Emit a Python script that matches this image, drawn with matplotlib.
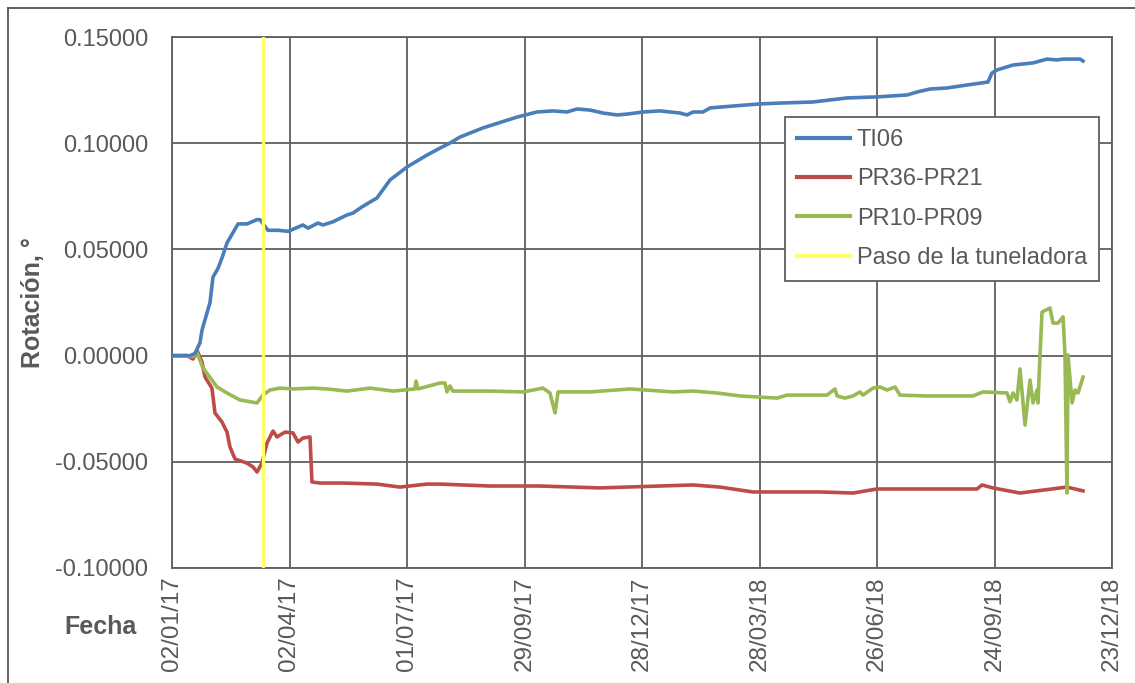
import matplotlib
matplotlib.use("Agg")
import matplotlib.pyplot as plt
import pandas as pd
from matplotlib.lines import Line2D

# ---------------- data (days since 02/01/17, rotation in degrees) ----------------
start = "2017-01-02"

ti06_days = [0, 13.8, 17.6, 21.4, 23, 29.1, 31.4, 35.2, 38.3, 42.1, 50.6, 57.4, 65.1, 67.4,
             73.5, 81.2, 88.9, 100.3, 104.2, 111.8, 115.7, 123.3, 134, 138.6, 145.5, 151.7,
             157, 167, 180, 195.3, 205.3, 213, 220.6, 238.2, 264.3, 279.6, 291.8, 302.6,
             310.2, 320.2, 330.2, 340.9, 348.5, 360.8, 373.8, 389.1, 394.5, 399.1, 406.7,
             412.1, 429.7, 450.4, 465.7, 491, 517, 540, 563, 570.6, 580.6, 593.6, 609, 625,
             628, 632, 644.2, 659.5, 670.2, 677.9, 682.5, 695.5, 697.8]
ti06_vals = [0.000, 0.000, 0.001, 0.006, 0.012, 0.025, 0.037, 0.041, 0.046, 0.053, 0.062,
             0.062, 0.064, 0.064, 0.059, 0.059, 0.0585, 0.0615, 0.060, 0.0624, 0.0615, 0.063,
             0.0662, 0.0671, 0.070, 0.0723, 0.0742, 0.0827, 0.0888, 0.0944, 0.0977, 0.1001,
             0.1029, 0.1072, 0.1123, 0.1147, 0.1152, 0.1147, 0.1161, 0.1156, 0.1142, 0.1133,
             0.1137, 0.1147, 0.1152, 0.1142, 0.1133, 0.1147, 0.1147, 0.1166, 0.1175, 0.1185,
             0.1189, 0.1194, 0.1213, 0.1218, 0.1227, 0.1241, 0.1255, 0.1260, 0.1274, 0.1288,
             0.1330, 0.1345, 0.1368, 0.1378, 0.1396, 0.1392, 0.1396, 0.1396, 0.1387]

pr36_days = [0, 11.5, 16.1, 19.1, 23.0, 25.3, 30.6, 32.9, 38.3, 42.1, 44.4, 48.3, 57.4, 62.0,
             65.1, 68.9, 72.8, 77.4, 80.4, 86.6, 92.7, 96.5, 100.3, 105.7, 107.2, 113.4, 131.0,
             157.0, 174.6, 195.3, 205.3, 243.6, 281.9, 327.8, 399.1, 419.7, 445.0, 496.3,
             521.6, 540.0, 616.6, 620.4, 628.8, 649.5, 685.5, 697.8]
pr36_vals = [0.000, 0.000, -0.0016, 0.0026, -0.0030, -0.0101, -0.0153, -0.0270, -0.0313,
             -0.0360, -0.0430, -0.0487, -0.0506, -0.0524, -0.0548, -0.0506, -0.0411, -0.0355,
             -0.0383, -0.0360, -0.0364, -0.0407, -0.0388, -0.0383, -0.0595, -0.0600, -0.0600,
             -0.0605, -0.0619, -0.0605, -0.0605, -0.0614, -0.0614, -0.0623, -0.0609, -0.0619,
             -0.0642, -0.0642, -0.0647, -0.0628, -0.0628, -0.0609, -0.0623, -0.0647, -0.0619,
             -0.0637]

pr10_days = [0, 16.1, 19.1, 23.7, 30.6, 34.5, 42.1, 52.1, 65.1, 69.7, 75.1, 82.7, 92.7, 108.0,
             118.7, 134.0, 151.7, 169.3, 186.1, 186.9, 188.4, 205.3, 209.1, 210.6, 212.9,
             215.2, 243.6, 268.9, 284.2, 289.5, 293.4, 295.7, 320.2, 350.8, 383.7, 399.1,
             417.4, 435.1, 463.4, 471.1, 501.7, 507.8, 509.4, 515.5, 521.6, 527.0, 529.3,
             536.9, 542.3, 547.7, 553.8, 557.6, 578.3, 613.5, 621.2, 639.6, 641.9, 644.2,
             647.2, 649.5, 653.4, 657.2, 659.5, 662.6, 663.3, 664.8, 666.4, 672.5, 674.8,
             678.6, 682.5, 684.0, 685.5, 686.3, 689.4, 691.7, 694.0, 697.8]
pr10_vals = [0.000, -0.0004, 0.0015, -0.0058, -0.0115, -0.0148, -0.0176, -0.0209, -0.0223,
             -0.0185, -0.0162, -0.0153, -0.0157, -0.0153, -0.0157, -0.0167, -0.0153, -0.0167,
             -0.0157, -0.0120, -0.0157, -0.0129, -0.0129, -0.0171, -0.0143, -0.0167, -0.0167,
             -0.0171, -0.0153, -0.0176, -0.0270, -0.0171, -0.0171, -0.0157, -0.0171, -0.0167,
             -0.0176, -0.0190, -0.0200, -0.0186, -0.0186, -0.0157, -0.0190, -0.0200, -0.0190,
             -0.0171, -0.0186, -0.0153, -0.0148, -0.0162, -0.0148, -0.0186, -0.0190, -0.0190,
             -0.0171, -0.0176, -0.0218, -0.0176, -0.0209, -0.0063, -0.0327, -0.0115, -0.0223,
             -0.0162, -0.0223, -0.0007, 0.0205, 0.0224, 0.0153, 0.0153, 0.0182, 0.0003,
             -0.0647, 0.0003, -0.0223, -0.0162, -0.0176, -0.0101]

paso_day = 69.5

series_names = ["TI06", "PR36-PR21", "PR10-PR09", "Paso de la tuneladora"]
tick_labels = ["02/01/17", "02/04/17", "01/07/17", "29/09/17", "28/12/17",
               "28/03/18", "26/06/18", "24/09/18", "23/12/18"]
y_ticks = [-0.10, -0.05, 0.0, 0.05, 0.10, 0.15]

# ---------------- plotting ----------------
plt.rcParams['font.family'] = ['Liberation Sans', 'DejaVu Sans']
TXT = '#595959'
GRID = '#5f5f5f'
COLORS = ['#4A7EBB', '#BE4B48', '#98B954', '#FFFF66']

t0 = pd.Timestamp(start)
def to_dates(days):
    return [t0 + pd.Timedelta(days=d) for d in days]

fig = plt.figure(figsize=(11.35, 6.83), dpi=100)
ax = fig.add_axes([172/1135, 1-568/683, (1112-172)/1135, (568-37)/683])

lw = 2.6
ax.plot(to_dates(ti06_days), ti06_vals, color=COLORS[0], lw=lw, zorder=4, solid_joinstyle='round')
ax.plot(to_dates(pr36_days), pr36_vals, color=COLORS[1], lw=lw, zorder=3, solid_joinstyle='round')
ax.plot(to_dates(pr10_days), pr10_vals, color=COLORS[2], lw=lw, zorder=3, solid_joinstyle='round')
ax.axvline(t0 + pd.Timedelta(days=paso_day), color=COLORS[3], lw=2.4, zorder=5)

tick_dates = [pd.to_datetime(s, format="%d/%m/%y") for s in tick_labels]
ax.set_xlim(tick_dates[0], tick_dates[-1])
ax.set_xticks(tick_dates)
ax.set_xticklabels(tick_labels, rotation=90, fontsize=17.5, color=TXT)
ax.set_ylim(-0.10, 0.15)
ax.set_yticks(y_ticks)
ax.set_yticklabels([f"{v:.5f}" for v in y_ticks], fontsize=17, color=TXT)
ax.tick_params(axis='both', length=0)
ax.tick_params(axis='y', pad=17)
ax.tick_params(axis='x', pad=6)

ax.grid(True, color=GRID, lw=1.3, zorder=0)
ax.set_axisbelow(True)
for s in ax.spines.values():
    s.set_color(GRID)
    s.set_linewidth(1.3)

fig.text(33/1135, 1-303/683, "Rotación, °", rotation=90, ha='center', va='center',
         fontsize=18, fontweight='bold', color=TXT)
fig.text(100/1135, 1-627/683, "Fecha", ha='center', va='center',
         fontsize=18, fontweight='bold', color=TXT)

handles = [Line2D([], [], color=c, lw=3) for c in COLORS]
leg = ax.legend(handles, series_names, loc='upper right',
                bbox_to_anchor=(1099/1135, 1-117/683), bbox_transform=fig.transFigure,
                borderaxespad=0, fontsize=17, frameon=True, fancybox=False,
                framealpha=1, edgecolor=GRID, handlelength=2.25, handletextpad=0.3,
                labelspacing=0.74, borderpad=0.5)
leg.get_frame().set_linewidth(1.3)
for t in leg.get_texts():
    t.set_color(TXT)

# outer chart border (left and top visible)
fig.add_artist(Line2D([8/1135, 8/1135], [0, 1-8/683], transform=fig.transFigure,
                      color='#555555', lw=1.3))
fig.add_artist(Line2D([8/1135, 1], [1-8/683, 1-8/683], transform=fig.transFigure,
                      color='#555555', lw=1.3))

fig.savefig("out.png", dpi=100)
